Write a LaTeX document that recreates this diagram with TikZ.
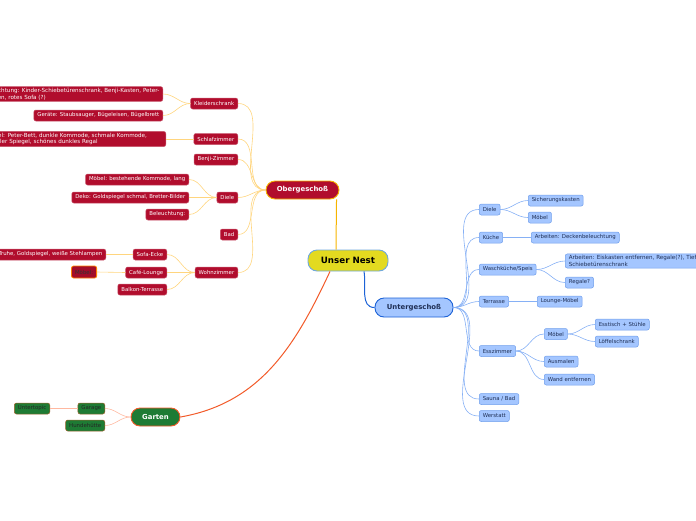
\documentclass[tikz,border=0pt]{standalone}
\usepackage{fontspec}
\setsansfont{DejaVu Sans}
\usepackage{tikz}
\usetikzlibrary{positioning}
\definecolor{ogred}{HTML}{B10D2D}
\definecolor{ogedge}{HTML}{F6B400}
\definecolor{oglight}{HTML}{FFD57E}
\definecolor{ugblue}{HTML}{A4C6FF}
\definecolor{ugedge}{HTML}{6F9EEB}
\definecolor{ugdark}{HTML}{1C62D6}
\definecolor{uglight}{HTML}{86B0F5}
\definecolor{ugtext}{HTML}{1F2F55}
\definecolor{gagreen}{HTML}{1E7B34}
\definecolor{gaedge}{HTML}{A0632D}
\definecolor{garot}{HTML}{F25A29}
\definecolor{galight}{HTML}{FFB8A0}
\definecolor{nestyellow}{HTML}{E3DA20}
\definecolor{nestedge}{HTML}{6FA8DC}
\tikzset{
  topic/.style={rounded corners=2pt,minimum height=11pt,inner xsep=3.5pt,inner ysep=1.5pt,
    font=\sffamily\fontsize{5.4}{6.5}\selectfont,line width=0.5pt},
  redbox/.style={topic,fill=ogred,draw=ogred!70!white,text=white},
  bluebox/.style={topic,fill=ugblue,draw=ugedge,text=ugtext},
  greenbox/.style={topic,fill=gagreen,draw=gaedge,text=black!85},
  longbox/.style={align=left,font=\sffamily\fontsize{5.6}{6.7}\selectfont},
  mainbox/.style={rounded corners=9pt,font=\sffamily\bfseries\fontsize{6.9}{8}\selectfont,line width=0.9pt},
  ogline/.style={draw=oglight,line width=0.6pt},
  ugline/.style={draw=uglight,line width=0.6pt},
  galine/.style={draw=galight,line width=0.6pt}
}
\begin{document}
\begin{tikzpicture}[x=1pt,y=1pt]
\clip (0,0) rectangle (696,-520);
%
% main topics
\node[mainbox,fill=nestyellow,draw=nestedge,minimum width=80pt,minimum height=21pt,
  font=\sffamily\bfseries\fontsize{8.7}{10}\selectfont] (nest) at (348,-260.5) {Unser Nest};
\node[mainbox,fill=ogred,draw=ogedge,text=white,minimum width=73pt,minimum height=18pt] (og) at (302.5,-190) {Obergescho\ss};
\node[mainbox,fill=ugblue,draw=ugdark,text=ugtext,minimum width=78pt,minimum height=19pt] (ug) at (414,-307.5) {Untergescho\ss};
\node[mainbox,fill=gagreen,draw=garot,text=white,minimum width=49pt,minimum height=18pt] (garten) at (155.5,-417) {Garten};
\draw[draw=ogedge,line width=1pt] ([xshift=-12pt]nest.north) to[out=90,in=-90] ([xshift=34pt]og.south);
\draw[draw=ugdark,line width=1pt] ([xshift=16pt]nest.south) to[out=-80,in=180] (ug.west);
\draw[draw=garot,line width=1pt] ([xshift=-18pt]nest.south) to[out=-115,in=10] (garten.east);
%
\begin{scope} % Obergeschoss
\foreach \n/\y/\t in {kleider/103.5/Kleiderschrank,schlaf/139/Schlafzimmer,benji/159.5/Benji-Zimmer,
  odiele/197.5/Diele,obad/234.5/Bad,wohn/272.5/Wohnzimmer}
{\node[redbox,anchor=east] (\n) at (238,-\y) {\t};
 \draw[ogline] (og.west) to[out=180,in=0] (\n.east);}
%
\node[redbox,longbox,anchor=east] (einr) at (163,-94)
  {Einrichtung: Kinder-Schiebet\"urenschrank, Benji-Kasten, Peter-\\Kasten, rotes Sofa (?)};
\node[redbox,anchor=east] (geraete) at (163,-115.5) {Ger\"ate: Staubsauger, B\"ugeleisen, B\"ugelbrett};
\foreach \n in {einr,geraete}
\draw[ogline] (kleider.west) to[out=180,in=0] (\n.east);
\node[redbox,longbox,text width=176pt,anchor=east] (schlafm) at (166,-139)
  {M\"obel: Peter-Bett, dunkle Kommode, schmale Kommode,\\dunkler Spiegel, sch\"ones dunkles Regal};
\draw[ogline] (schlaf.west) -- (schlafm.east);
%
\foreach \n/\y/\t in {dmoebel/179.5/{M\"obel: bestehende Kommode, lang},
  ddeko/197.5/{Deko: Goldspiegel schmal, Bretter-Bilder},dbel/214.5/{Beleuchtung:}}
{\node[redbox,anchor=east] (\n) at (189,-\y) {\t};
 \draw[ogline] (odiele.west) to[out=180,in=0] (\n.east);}
%
\foreach \n/\y/\t in {sofa/254.5/Sofa-Ecke,cafe/272.5/Caf\'e-Lounge,balkon/289.5/Balkon-Terrasse}
{\node[redbox,anchor=east] (\n) at (167,-\y) {\t};
 \draw[ogline] (wohn.west) to[out=180,in=0] (\n.east);}
\node[redbox,anchor=east] (sofad) at (106,-254.5) {Deko: Truhe, Goldspiegel, wei\ss e Stehlampen};
\draw[ogline] (sofa.west) -- (sofad.east);
\node[redbox,anchor=east,fill=ogred!92!black,draw=orange,line width=0.8pt,text=black!80,minimum height=12pt] (cafem) at (97,-272) {M\"obel:};
\draw[ogline] (cafe.west) -- (cafem.east);
\end{scope}
%
\begin{scope} % Untergeschoss
\foreach \n/\y/\t in {udiele/209.5/Diele,kueche/237.5/K\"uche,wasch/269.5/{Waschk\"uche/Speis},
  terrasse/301.5/Terrasse,esszi/351/Esszimmer,sauna/399/{Sauna / Bad},werk/416/Werstatt}
{\node[bluebox,anchor=west] (\n) at (479,-\y) {\t};
 \draw[ugline] (ug.east) to[out=0,in=180] (\n.west);}
%
\foreach \n/\y/\t in {sich/200.5/Sicherungskasten,umoebel/217.5/M\"obel}
{\node[bluebox,anchor=west] (\n) at (528,-\y) {\t};
 \draw[ugline] (udiele.east) to[out=0,in=180] (\n.west);}
\node[bluebox,anchor=west] (kuearb) at (531,-237.5) {Arbeiten: Deckenbeleuchtung};
\draw[ugline] (kueche.east) -- (kuearb.west);
\node[bluebox,longbox,anchor=west] (wascharb) at (565,-261)
  {Arbeiten: Eiskasten entfernen, Regale(?), Tiefk\"uhler,\\Schiebet\"urenschrank};
\node[bluebox,anchor=west] (regale) at (565,-282.5) {Regale?};
\foreach \n in {wascharb,regale}
\draw[ugline] (wasch.east) to[out=0,in=180] (\n.west);
\node[bluebox,anchor=west] (lounge) at (537,-301.5) {Lounge-M\"obel};
\draw[ugline] (terrasse.east) -- (lounge.west);
%
\foreach \n/\y/\t in {emoebel/334/M\"obel,ausmalen/361.5/Ausmalen,wand/379.5/Wand entfernen}
{\node[bluebox,anchor=west] (\n) at (544,-\y) {\t};
 \draw[ugline] (esszi.east) to[out=0,in=180] (\n.west);}
\foreach \n/\y/\t in {esstisch/324.5/Esstisch + St\"uhle,loeffel/341.5/L\"offelschrank}
{\node[bluebox,anchor=west] (\n) at (595,-\y) {\t};
 \draw[ugline] (emoebel.east) to[out=0,in=180] (\n.west);}
\end{scope}
%
\begin{scope} % Garten
\foreach \n/\y/\t in {garage/408.5/Garage,hunde/425.5/Hundeh\"utte}
{\node[greenbox,anchor=east] (\n) at (105,-\y) {\t};
 \draw[galine] (garten.west) to[out=180,in=0] (\n.east);}
\node[greenbox,anchor=east] (unter) at (50,-408.5) {Untertopic};
\draw[galine] (garage.west) -- (unter.east);
\end{scope}
%
\end{tikzpicture}
\end{document}
